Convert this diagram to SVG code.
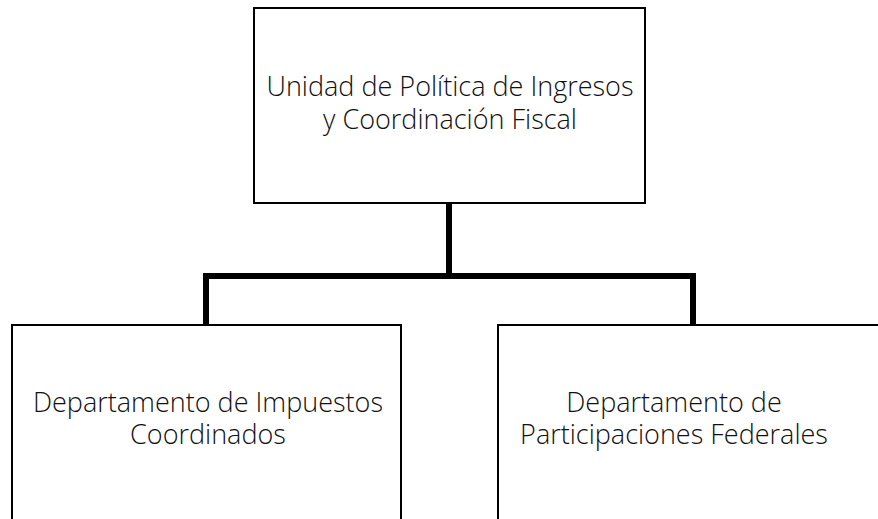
<svg xmlns="http://www.w3.org/2000/svg" width="878" height="519" viewBox="0 0 878 519">
<style>
.box{fill:#fff;stroke:#000;stroke-width:2}
.lbl{font-family:"Open Sans","Liberation Sans",sans-serif;font-weight:300;font-size:27px;fill:#111;text-anchor:middle}
.conn{fill:none;stroke:#000;stroke-width:6;stroke-linejoin:miter}
</style>
<rect width="878" height="519" fill="#fff"/>
<g id="connectors">
<path class="conn" d="M449,203 V276"/>
<path class="conn" d="M206,325 V276 H693 V325"/>
</g>
<g id="n-unidad">
<rect class="box" x="254" y="8" width="391" height="195"/>
<text class="lbl"><tspan x="450" y="96">Unidad de Política de Ingresos</tspan><tspan x="450" y="129">y Coordinación Fiscal</tspan></text>
</g>
<g id="n-impuestos">
<rect class="box" x="12" y="325" width="389" height="200"/>
<text class="lbl"><tspan x="208" y="412">Departamento de Impuestos</tspan><tspan x="208" y="444">Coordinados</tspan></text>
</g>
<g id="n-participaciones">
<rect class="box" x="498" y="325" width="390" height="200"/>
<text class="lbl"><tspan x="674" y="412">Departamento de</tspan><tspan x="674" y="444">Participaciones Federales</tspan></text>
</g>
</svg>
